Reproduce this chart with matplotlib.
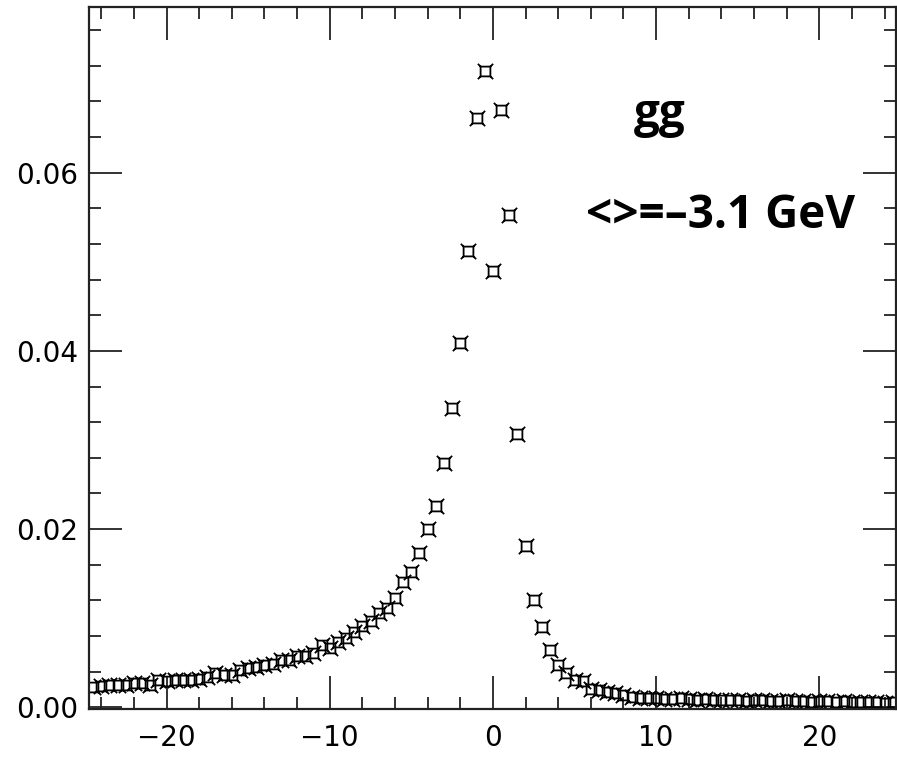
import numpy as np
import matplotlib
matplotlib.use("Agg")
import matplotlib.pyplot as plt
from matplotlib.path import Path
from matplotlib.ticker import MultipleLocator

# bin centres (every 0.5 from -24.5 to 24.5)
x_left = [-24.5, -24.0, -23.5, -23.0, -22.5, -22.0, -21.5, -21.0, -20.5, -20.0,
          -19.5, -19.0, -18.5, -18.0, -17.5, -17.0, -16.5, -16.0, -15.5, -15.0,
          -14.5, -14.0, -13.5, -13.0, -12.5, -12.0, -11.5, -11.0, -10.5, -10.0,
          -9.5, -9.0, -8.5, -8.0, -7.5, -7.0, -6.5, -6.0, -5.5, -5.0,
          -4.5, -4.0, -3.5, -3.0, -2.5, -2.0, -1.5, -1.0, -0.5]
y_left = [0.0023, 0.0024, 0.0025, 0.0025, 0.0025, 0.0027, 0.0027, 0.0025, 0.0031, 0.0029,
          0.0031, 0.0031, 0.0031, 0.0032, 0.0034, 0.0038, 0.0036, 0.0036, 0.0042, 0.0044,
          0.0045, 0.0047, 0.0049, 0.0053, 0.0053, 0.0057, 0.0057, 0.0061, 0.0070, 0.0066,
          0.0073, 0.0078, 0.0084, 0.0091, 0.0097, 0.0106, 0.0111, 0.0123, 0.0140, 0.0152,
          0.0173, 0.0200, 0.0226, 0.0274, 0.0336, 0.0409, 0.0512, 0.0661, 0.0714]

x_right = [0.0, 0.5, 1.0, 1.5, 2.0, 2.5, 3.0, 3.5, 4.0, 4.5,
           5.0, 5.5, 6.0, 6.5, 7.0, 7.5, 8.0, 8.5, 9.0, 9.5,
           10.0, 10.5, 11.0, 11.5, 12.0, 12.5, 13.0, 13.5, 14.0, 14.5,
           15.0, 15.5, 16.0, 16.5, 17.0, 17.5, 18.0, 18.5, 19.0, 19.5,
           20.0, 20.5, 21.0, 21.5, 22.0, 22.5, 23.0, 23.5, 24.0, 24.5]
y_right = [0.0490, 0.0670, 0.0552, 0.0307, 0.0181, 0.0120, 0.0090, 0.0064, 0.0047, 0.0038,
           0.0031, 0.0029, 0.0020, 0.0019, 0.0017, 0.0016, 0.0014, 0.0012, 0.0010, 0.0010,
           0.0010, 0.0009, 0.0009, 0.0010, 0.0009, 0.0008, 0.0009, 0.0008, 0.0008, 0.0008,
           0.0008, 0.0007, 0.0008, 0.0008, 0.0007, 0.0007, 0.0008, 0.0007, 0.0007, 0.0006,
           0.0007, 0.0007, 0.0006, 0.0007, 0.0006, 0.0006, 0.0006, 0.0006, 0.0005, 0.0006]

x = x_left + x_right
y = y_left + y_right

# open square with short diagonal strokes at the corners
s, c = 0.32, 0.5
verts = [(-s, -s), (s, -s), (s, s), (-s, s), (-s, -s),
         (-s, -s), (-c, -c), (s, -s), (c, -c), (s, s), (c, c), (-s, s), (-c, c)]
codes = [Path.MOVETO, Path.LINETO, Path.LINETO, Path.LINETO, Path.CLOSEPOLY,
         Path.MOVETO, Path.LINETO, Path.MOVETO, Path.LINETO,
         Path.MOVETO, Path.LINETO, Path.MOVETO, Path.LINETO]
marker = Path(verts, codes)

plt.rcParams["font.family"] = ["DejaVu Sans"]

fig = plt.figure(figsize=(8.97, 7.57), dpi=100)
ax = fig.add_axes([89 / 897, 1 - 709 / 757, 807 / 897, 702 / 757])

ax.plot(x, y, ls="none", marker=marker, ms=11, mfc="none", mec="black", mew=1.3)

ax.set_xlim(-24.75, 24.7)
ax.set_ylim(-0.0002, 0.0786)

ax.xaxis.set_major_locator(MultipleLocator(10))
ax.xaxis.set_minor_locator(MultipleLocator(2))
ax.yaxis.set_major_locator(MultipleLocator(0.02))
ax.yaxis.set_minor_locator(MultipleLocator(0.004))
ax.yaxis.set_major_formatter(plt.FuncFormatter(lambda v, p: "%.2f" % v))
ax.xaxis.set_major_formatter(plt.FuncFormatter(lambda v, p: "%d" % v if v >= 0 else "\u2212%d" % -v))

ax.tick_params(which="both", direction="in", top=True, right=True, color="#222222")
ax.tick_params(which="major", length=24, width=1.3, labelsize=20, pad=11)
ax.tick_params(which="minor", length=8.5, width=1.3)
ax.tick_params(axis="y", pad=8)
for sp in ax.spines.values():
    sp.set_linewidth(1.6)
    sp.set_color("#222222")

fig.text(660 / 897, 1 - 127 / 757, "gg", fontfamily="Open Sans", fontweight="bold",
         fontsize=33, ha="center", va="baseline")
fig.text(855 / 897, 1 - 228 / 757, "<>=\u20133.1 GeV", fontfamily="Open Sans",
         fontweight="bold", fontsize=33, ha="right", va="baseline")

fig.savefig("out.png", dpi=100)
